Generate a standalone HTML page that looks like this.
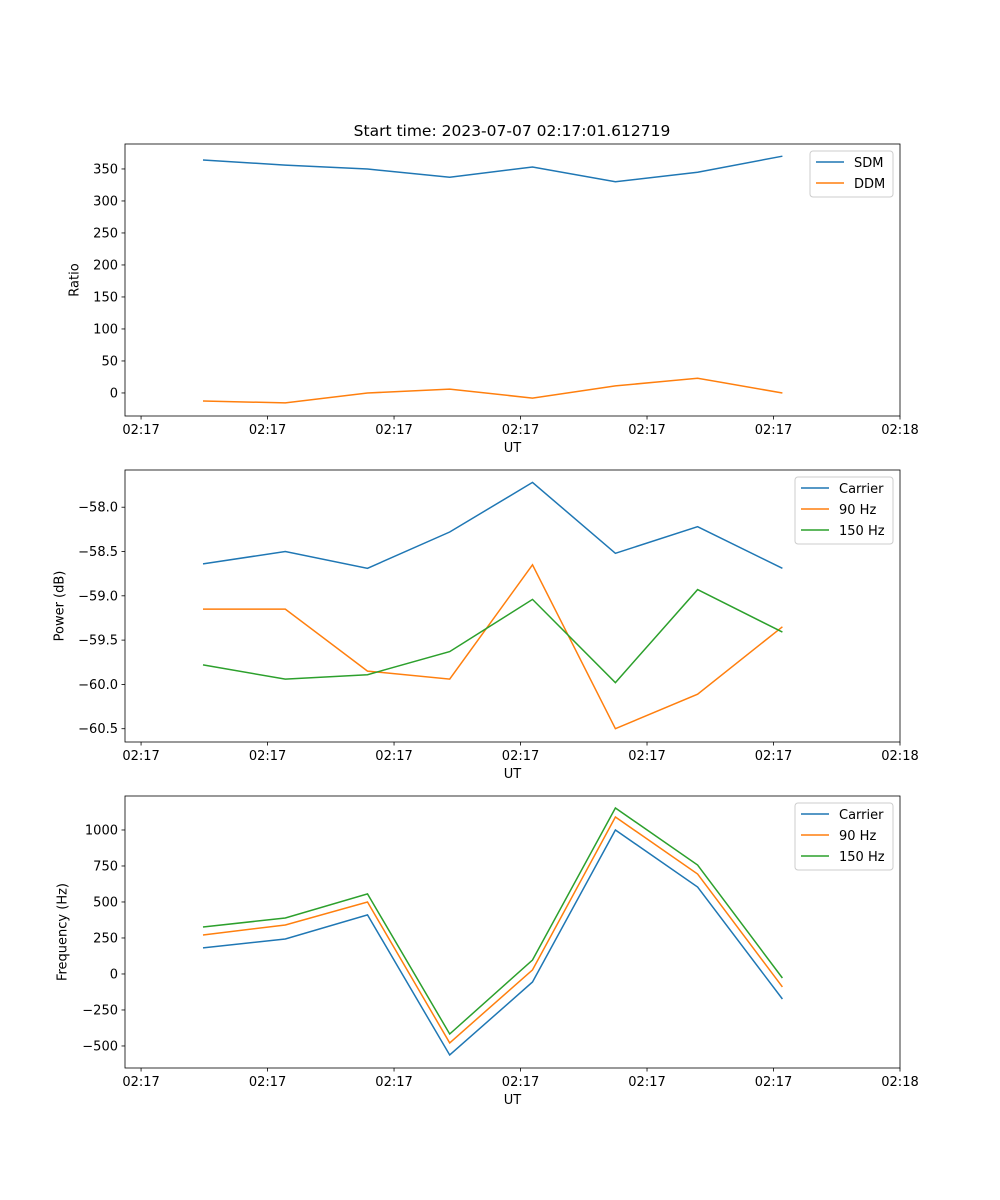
<!DOCTYPE html>
<html><head><meta charset="utf-8">
<style>body{margin:0;background:#fff}svg{display:block;font-family:"DejaVu Sans","Liberation Sans",sans-serif}</style>
</head><body>
<svg id="fig" width="1000" height="1200" xmlns="http://www.w3.org/2000/svg"></svg>
<script>
// x data: seconds after 02:17:00
const times = [4.9, 11.4, 17.9, 24.4, 30.95, 37.5, 44.0, 50.7];
const xTickVals = [0, 10, 20, 30, 40, 50, 60];
const xTickLabels = ["02:17","02:17","02:17","02:17","02:17","02:17","02:18"];
const sdm = [364, 356, 350, 337, 353, 330, 345, 370];
const ddm = [-12.5, -15.6, 0, 6, -8, 11, 23, 0];
const powCarrier = [-58.64, -58.50, -58.69, -58.28, -57.72, -58.52, -58.22, -58.69];
const pow90 = [-59.15, -59.15, -59.85, -59.94, -58.65, -60.50, -60.11, -59.35];
const pow150 = [-59.78, -59.94, -59.89, -59.63, -59.04, -59.98, -58.93, -59.41];
const freqCarrier = [181, 243, 410, -563, -56, 1000, 604, -174];
const freq90 = [271, 340, 500, -479, 28, 1090, 694, -90];
const freq150 = [326, 389, 556, -417, 97, 1153, 757, -28];
const ticks1 = [0, 50, 100, 150, 200, 250, 300, 350];
const ticks2 = [-60.5, -60.0, -59.5, -59.0, -58.5, -58.0];
const ticks3 = [-500, -250, 0, 250, 500, 750, 1000];

const NS = "http://www.w3.org/2000/svg";
const svg = document.getElementById("fig");
function el(tag, attrs, parent, text){
  const e = document.createElementNS(NS, tag);
  for (const k in attrs) e.setAttribute(k, attrs[k]);
  if (text !== undefined) e.textContent = text;
  (parent || svg).appendChild(e);
  return e;
}
const C = ["#1f77b4", "#ff7f0e", "#2ca02c"];
const L = 125, R = 900, XMIN = -1.27, XMAX = 60;
const xs = v => L + (v - XMIN) / (XMAX - XMIN) * (R - L);

function panel(name, top, bot, ymin, ymax, yticks, fmt, ylabel, yx, series, legend){
  const g = el("g", {});
  
  
  const ys = v => bot - (v - ymin) / (ymax - ymin) * (bot - top);
  xTickVals.forEach((t, i) => {
    const x = xs(t);
    const tl = el("line", {x1:x, x2:x, y1:bot, y2:bot+3.5, stroke:"#000", "stroke-width":0.8}, g);
    
    
    const tx = el("text", {x:x, y:bot+18, "font-size":13, "text-anchor":"middle"}, g, xTickLabels[i]);
    
    
  });
  const xl = el("text", {x:(L+R)/2, y:bot+36, "font-size":13, "text-anchor":"middle"}, g, "UT");
  
  
  yticks.forEach(t => {
    const y = ys(t);
    const tl = el("line", {x1:L-3.5, x2:L, y1:y, y2:y, stroke:"#000", "stroke-width":0.8}, g);
    
    
    const tx = el("text", {x:L-7, y:y+4.5, "font-size":13, "text-anchor":"end"}, g, fmt(t));
    
    
  });
  const yc = (top+bot)/2;
  const yl = el("text", {x:yx, y:yc, "font-size":13, "text-anchor":"middle", "dominant-baseline":"middle", transform:`rotate(-90 ${yx} ${yc})`}, g, ylabel);
  
  
  series.forEach((s, i) => {
    const pts = s.vals.map((v, j) => xs(times[j]).toFixed(1) + "," + ys(v).toFixed(1)).join(" ");
    const pl = el("polyline", {points:pts, fill:"none", stroke:C[i], "stroke-width":1.5}, g);
    
    
  });
  const fr = el("rect", {x:L, y:top, width:R-L, height:bot-top, fill:"none", stroke:"#000", "stroke-width":0.8}, g);
  
  
  const lg = el("g", {}, g);
  
  
  el("rect", {x:legend.x, y:top+7, width:893-legend.x, height:series.length*21+4, rx:3, fill:"#fff", stroke:"#ccc", "stroke-width":1}, lg);
  series.forEach((s, i) => {
    const y = top + 18 + i * 21;
    const e = el("g", {}, lg);
    
    
    el("line", {x1:legend.x+6, x2:legend.x+34, y1:y, y2:y, stroke:C[i], "stroke-width":1.5}, e);
    el("text", {x:legend.x+44, y:y+5, "font-size":13}, e, s.label);
  });
}

const title = el("text", {x:512, y:136, "font-size":15.5, "text-anchor":"middle"}, svg, "Start time: 2023-07-07 02:17:01.612719");



panel("ratio-panel", 144, 416, -36, 389, ticks1, v => String(v), "Ratio", 75,
  [{id:"sdm", label:"SDM", vals:sdm}, {id:"ddm", label:"DDM", vals:ddm}], {x:810});
panel("power-panel", 470, 742, -60.65, -57.58, ticks2, v => (v < 0 ? "\u2212" : "") + Math.abs(v).toFixed(1), "Power (dB)", 60,
  [{id:"carrier", label:"Carrier", vals:powCarrier}, {id:"90hz", label:"90 Hz", vals:pow90}, {id:"150hz", label:"150 Hz", vals:pow150}], {x:795});
panel("frequency-panel", 796, 1068, -653, 1236, ticks3, v => (v < 0 ? "\u2212" : "") + Math.abs(v), "Frequency (Hz)", 63,
  [{id:"carrier", label:"Carrier", vals:freqCarrier}, {id:"90hz", label:"90 Hz", vals:freq90}, {id:"150hz", label:"150 Hz", vals:freq150}], {x:795});
</script>
</body></html>
